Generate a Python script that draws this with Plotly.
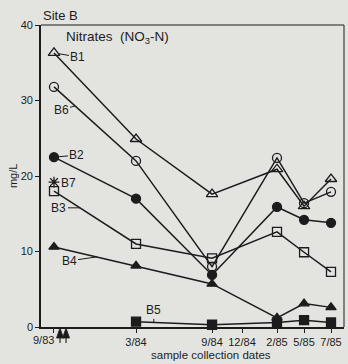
import numpy as np
import plotly.graph_objects as go

# Sampling dates and their positions along the time axis (axis units)
date_labels = ["9/83", "3/84", "9/84", "12/84", "2/85", "5/85", "7/85"]
date_pos = [0.0, 6.0, 11.56, 13.75, 16.31, 18.29, 20.26]

# Additional sampling marks (arrows on the date axis)
extra_sample_pos = [0.44, 0.88]

# Nitrate concentrations (mg/L) per well; None = not sampled
b1 = [36.3, 24.9, 17.6, None, 20.9, 16.0, 19.6]
b6 = [31.8, 22.0, 8.0, None, 22.4, 16.4, 17.9]
b2 = [22.5, 17.0, 6.9, None, 15.9, 14.2, 13.8]
b7 = [19.2, None, None, None, None, None, None]
b3 = [18.0, 11.0, 9.1, None, 12.6, 9.9, 7.3]
b4 = [10.6, 8.1, 5.7, None, 1.2, 3.1, 2.6]
b5 = [None, 0.7, 0.3, None, 0.6, 0.9, 0.6]

INK = "#1c1c1c"
BG = "#e3e4e0"
FONT = "Liberation Sans, Arial, sans-serif"

series = [
    ("B1", b1, "triangle-up-open", 10),
    ("B6", b6, "circle-open", 9),
    ("B2", b2, "circle", 9),
    ("B7", b7, "asterisk-open", 9),
    ("B3", b3, "square-open", 9),
    ("B4", b4, "triangle-up", 9),
    ("B5", b5, "square", 9),
]

fig = go.Figure()
for name, vals, sym, size in series:
    xs = [x for x, v in zip(date_pos, vals) if v is not None]
    ys = [v for v in vals if v is not None]
    fig.add_trace(go.Scatter(
        x=xs, y=ys, name=name, mode="lines+markers",
        line=dict(color=INK, width=1.5),
        marker=dict(symbol=sym, size=size, color=INK,
                    line=dict(color=INK, width=1.3)),
        cliponaxis=False, showlegend=False,
    ))

# Arrows just below the date axis marking extra sampling events
for xp in extra_sample_pos:
    fig.add_shape(type="path", xref="x", yref="paper",
                  xsizemode="pixel", ysizemode="pixel",
                  xanchor=xp, yanchor=0,
                  path="M -3.5,-11 L 3.5,-11 L 0,-1 Z",
                  fillcolor=INK, line=dict(color=INK, width=0.8))
    fig.add_shape(type="path", xref="x", yref="paper",
                  xsizemode="pixel", ysizemode="pixel",
                  xanchor=xp, yanchor=0,
                  path="M 0,-11 L 0,-16",
                  line=dict(color=INK, width=1.1))


def on_line(vals, x):
    xs = [p for p, v in zip(date_pos, vals) if v is not None]
    ys = [v for v in vals if v is not None]
    return float(np.interp(x, xs, ys))


def leader(text, x, y, ax, ay, standoff=0):
    fig.add_annotation(
        x=x, y=y, text=text, showarrow=True, arrowhead=0, arrowwidth=1,
        arrowcolor=INK, ax=ax, ay=ay, standoff=standoff,
        font=dict(family=FONT, size=12, color=INK),
    )


# Well labels with short leader lines
leader("B1", date_pos[0], b1[0], 24, 4, standoff=5)
leader("B6", 1.54, on_line(b6, 1.54), -14, 4)
leader("B2", date_pos[0], b2[0], 23, -2, standoff=5)
fig.add_annotation(x=date_pos[0], y=b7[0], text="B7", showarrow=False,
                   xanchor="left", xshift=5, yshift=-1,
                   font=dict(family=FONT, size=12, color=INK))
leader("B3", 1.9, on_line(b3, 1.9), -21, 0)
leader("B4", 3.15, on_line(b4, 3.15), -28, 4)
leader("B5", 7.3, on_line(b5, 7.3), 0, -12)

# First date label sits to the left of its tick
fig.add_annotation(x=date_pos[0], y=0, yref="y", text=date_labels[0],
                   showarrow=False, xanchor="right", yanchor="top",
                   xshift=2, yshift=-5,
                   font=dict(family=FONT, size=11, color=INK))

# Titles
fig.add_annotation(xref="paper", yref="paper", x=0.0, y=1.03,
                   xanchor="left", yanchor="middle", text="Site B",
                   showarrow=False, font=dict(family=FONT, size=13, color=INK))
fig.add_annotation(x=0.72, y=38.3, xanchor="left",
                   text="Nitrates  (NO<sub>3</sub>-N)",
                   showarrow=False, font=dict(family=FONT, size=13.5, color=INK))
fig.add_annotation(xref="paper", yref="paper", x=0.56, y=-0.093,
                   xanchor="center", yanchor="middle",
                   text="sample collection dates",
                   showarrow=False, font=dict(family=FONT, size=11.5, color=INK))
fig.add_annotation(xref="paper", yref="paper", x=-0.092, y=0.5,
                   xanchor="center", yanchor="middle",
                   text="mg/L", textangle=-90, showarrow=False,
                   font=dict(family=FONT, size=11, color=INK))

fig.update_xaxes(
    range=[-0.95, 21.21], tickmode="array", tickvals=date_pos[1:],
    ticktext=date_labels[1:], ticks="outside", ticklen=4, tickwidth=1,
    tickcolor=INK, showgrid=False, zeroline=False, showline=True,
    linecolor=INK, linewidth=1.5, mirror=False,
    tickfont=dict(family=FONT, size=11, color=INK),
    minor=dict(tickmode="array", tickvals=date_pos[:1], ticks="outside",
               ticklen=4, tickwidth=1, tickcolor=INK, showgrid=False),
)
fig.update_yaxes(
    range=[0, 40], tickvals=[0, 10, 20, 30, 40], ticks="outside",
    ticklen=4, tickwidth=1, tickcolor=INK, showgrid=False, zeroline=False,
    showline=True, linecolor=INK, linewidth=1.6,
    tickfont=dict(family=FONT, size=11, color=INK),
)
# Thin frame on the top and right sides
fig.add_shape(type="line", xref="paper", yref="paper", x0=0, x1=1, y0=1, y1=1,
              line=dict(color=INK, width=1))
fig.add_shape(type="line", xref="paper", yref="paper", x0=1, x1=1, y0=0, y1=1,
              line=dict(color=INK, width=1))

fig.update_layout(
    width=348, height=364,
    margin=dict(l=41, r=4, t=25, b=37),
    paper_bgcolor=BG, plot_bgcolor=BG,
    font=dict(family=FONT, color=INK),
)

fig.write_html("out.html")
